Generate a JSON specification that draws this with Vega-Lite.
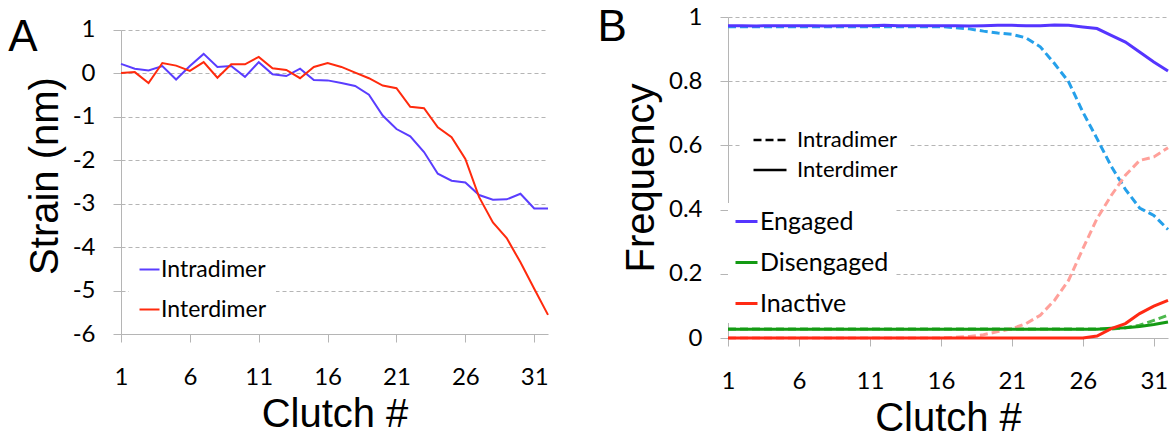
{
  "$schema": "https://vega.github.io/schema/vega-lite/v6.json",
  "padding": {"left": 8, "top": 5, "right": 0, "bottom": 0},
  "background": "white",
  "spacing": 45,
  "resolve": {"scale": {"color": "independent", "strokeDash": "independent"}, "legend": {"color": "independent", "strokeDash": "independent"}},
  "config": {
    "view": {"stroke": null},
    "title": {"font": "Liberation Sans", "fontSize": 44, "fontWeight": "normal", "anchor": "start", "frame": "bounds", "color": "#000"},
    "axis": {"labelFont": "Lato", "labelFontSize": 24, "labelColor": "#000", "titleFont": "Liberation Sans", "titleFontSize": 40, "titleFontWeight": "normal", "titleColor": "#000", "domainColor": "#b5b5b5", "tickColor": "#b5b5b5", "tickSize": 8, "gridColor": "#b5b5b5", "gridDash": [4, 3], "labelFlush": false, "labelOverlap": false},
    "axisX": {"grid": false},
    "axisY": {"grid": true, "labelPadding": 18, "titlePadding": 7},
    "legend": {"labelFont": "Lato", "labelColor": "#000", "title": null, "orient": "none", "fillColor": "white", "symbolType": "stroke", "labelLimit": 400}
  },
  "datasets": {
    "strain": [
      {"clutch":1,"series":"Intradimer","strain":0.22},{"clutch":2,"series":"Intradimer","strain":0.11},{"clutch":3,"series":"Intradimer","strain":0.07},{"clutch":4,"series":"Intradimer","strain":0.17},{"clutch":5,"series":"Intradimer","strain":-0.14},{"clutch":6,"series":"Intradimer","strain":0.17},{"clutch":7,"series":"Intradimer","strain":0.45},{"clutch":8,"series":"Intradimer","strain":0.15},{"clutch":9,"series":"Intradimer","strain":0.17},{"clutch":10,"series":"Intradimer","strain":-0.08},{"clutch":11,"series":"Intradimer","strain":0.26},{"clutch":12,"series":"Intradimer","strain":-0.02},{"clutch":13,"series":"Intradimer","strain":-0.06},{"clutch":14,"series":"Intradimer","strain":0.11},{"clutch":15,"series":"Intradimer","strain":-0.15},{"clutch":16,"series":"Intradimer","strain":-0.16},{"clutch":17,"series":"Intradimer","strain":-0.22},{"clutch":18,"series":"Intradimer","strain":-0.29},{"clutch":19,"series":"Intradimer","strain":-0.49},{"clutch":20,"series":"Intradimer","strain":-0.97},{"clutch":21,"series":"Intradimer","strain":-1.28},{"clutch":22,"series":"Intradimer","strain":-1.45},{"clutch":23,"series":"Intradimer","strain":-1.81},{"clutch":24,"series":"Intradimer","strain":-2.31},{"clutch":25,"series":"Intradimer","strain":-2.47},{"clutch":26,"series":"Intradimer","strain":-2.51},{"clutch":27,"series":"Intradimer","strain":-2.8},{"clutch":28,"series":"Intradimer","strain":-2.91},{"clutch":29,"series":"Intradimer","strain":-2.9},{"clutch":30,"series":"Intradimer","strain":-2.77},{"clutch":31,"series":"Intradimer","strain":-3.11},{"clutch":32,"series":"Intradimer","strain":-3.11},
      {"clutch":1,"series":"Interdimer","strain":0.01},{"clutch":2,"series":"Interdimer","strain":0.03},{"clutch":3,"series":"Interdimer","strain":-0.22},{"clutch":4,"series":"Interdimer","strain":0.24},{"clutch":5,"series":"Interdimer","strain":0.18},{"clutch":6,"series":"Interdimer","strain":0.06},{"clutch":7,"series":"Interdimer","strain":0.26},{"clutch":8,"series":"Interdimer","strain":-0.1},{"clutch":9,"series":"Interdimer","strain":0.21},{"clutch":10,"series":"Interdimer","strain":0.21},{"clutch":11,"series":"Interdimer","strain":0.38},{"clutch":12,"series":"Interdimer","strain":0.12},{"clutch":13,"series":"Interdimer","strain":0.08},{"clutch":14,"series":"Interdimer","strain":-0.11},{"clutch":15,"series":"Interdimer","strain":0.15},{"clutch":16,"series":"Interdimer","strain":0.24},{"clutch":17,"series":"Interdimer","strain":0.15},{"clutch":18,"series":"Interdimer","strain":0.02},{"clutch":19,"series":"Interdimer","strain":-0.11},{"clutch":20,"series":"Interdimer","strain":-0.28},{"clutch":21,"series":"Interdimer","strain":-0.34},{"clutch":22,"series":"Interdimer","strain":-0.77},{"clutch":23,"series":"Interdimer","strain":-0.8},{"clutch":24,"series":"Interdimer","strain":-1.24},{"clutch":25,"series":"Interdimer","strain":-1.47},{"clutch":26,"series":"Interdimer","strain":-1.97},{"clutch":27,"series":"Interdimer","strain":-2.85},{"clutch":28,"series":"Interdimer","strain":-3.43},{"clutch":29,"series":"Interdimer","strain":-3.79},{"clutch":30,"series":"Interdimer","strain":-4.35},{"clutch":31,"series":"Interdimer","strain":-4.96},{"clutch":32,"series":"Interdimer","strain":-5.56}
    ],
    "freq": [
      {"clutch":1,"state":"Engaged","type":"Intradimer","freq":0.97},{"clutch":2,"state":"Engaged","type":"Intradimer","freq":0.97},{"clutch":3,"state":"Engaged","type":"Intradimer","freq":0.97},{"clutch":4,"state":"Engaged","type":"Intradimer","freq":0.97},{"clutch":5,"state":"Engaged","type":"Intradimer","freq":0.97},{"clutch":6,"state":"Engaged","type":"Intradimer","freq":0.97},{"clutch":7,"state":"Engaged","type":"Intradimer","freq":0.97},{"clutch":8,"state":"Engaged","type":"Intradimer","freq":0.97},{"clutch":9,"state":"Engaged","type":"Intradimer","freq":0.97},{"clutch":10,"state":"Engaged","type":"Intradimer","freq":0.97},{"clutch":11,"state":"Engaged","type":"Intradimer","freq":0.97},{"clutch":12,"state":"Engaged","type":"Intradimer","freq":0.97},{"clutch":13,"state":"Engaged","type":"Intradimer","freq":0.97},{"clutch":14,"state":"Engaged","type":"Intradimer","freq":0.97},{"clutch":15,"state":"Engaged","type":"Intradimer","freq":0.97},{"clutch":16,"state":"Engaged","type":"Intradimer","freq":0.97},{"clutch":17,"state":"Engaged","type":"Intradimer","freq":0.967},{"clutch":18,"state":"Engaged","type":"Intradimer","freq":0.963},{"clutch":19,"state":"Engaged","type":"Intradimer","freq":0.956},{"clutch":20,"state":"Engaged","type":"Intradimer","freq":0.95},{"clutch":21,"state":"Engaged","type":"Intradimer","freq":0.946},{"clutch":22,"state":"Engaged","type":"Intradimer","freq":0.935},{"clutch":23,"state":"Engaged","type":"Intradimer","freq":0.907},{"clutch":24,"state":"Engaged","type":"Intradimer","freq":0.855},{"clutch":25,"state":"Engaged","type":"Intradimer","freq":0.798},{"clutch":26,"state":"Engaged","type":"Intradimer","freq":0.704},{"clutch":27,"state":"Engaged","type":"Intradimer","freq":0.621},{"clutch":28,"state":"Engaged","type":"Intradimer","freq":0.535},{"clutch":29,"state":"Engaged","type":"Intradimer","freq":0.463},{"clutch":30,"state":"Engaged","type":"Intradimer","freq":0.405},{"clutch":31,"state":"Engaged","type":"Intradimer","freq":0.382},{"clutch":32,"state":"Engaged","type":"Intradimer","freq":0.338},
      {"clutch":1,"state":"Disengaged","type":"Intradimer","freq":0.028},{"clutch":2,"state":"Disengaged","type":"Intradimer","freq":0.028},{"clutch":3,"state":"Disengaged","type":"Intradimer","freq":0.028},{"clutch":4,"state":"Disengaged","type":"Intradimer","freq":0.028},{"clutch":5,"state":"Disengaged","type":"Intradimer","freq":0.028},{"clutch":6,"state":"Disengaged","type":"Intradimer","freq":0.028},{"clutch":7,"state":"Disengaged","type":"Intradimer","freq":0.028},{"clutch":8,"state":"Disengaged","type":"Intradimer","freq":0.028},{"clutch":9,"state":"Disengaged","type":"Intradimer","freq":0.028},{"clutch":10,"state":"Disengaged","type":"Intradimer","freq":0.028},{"clutch":11,"state":"Disengaged","type":"Intradimer","freq":0.028},{"clutch":12,"state":"Disengaged","type":"Intradimer","freq":0.028},{"clutch":13,"state":"Disengaged","type":"Intradimer","freq":0.028},{"clutch":14,"state":"Disengaged","type":"Intradimer","freq":0.028},{"clutch":15,"state":"Disengaged","type":"Intradimer","freq":0.028},{"clutch":16,"state":"Disengaged","type":"Intradimer","freq":0.028},{"clutch":17,"state":"Disengaged","type":"Intradimer","freq":0.028},{"clutch":18,"state":"Disengaged","type":"Intradimer","freq":0.028},{"clutch":19,"state":"Disengaged","type":"Intradimer","freq":0.028},{"clutch":20,"state":"Disengaged","type":"Intradimer","freq":0.028},{"clutch":21,"state":"Disengaged","type":"Intradimer","freq":0.028},{"clutch":22,"state":"Disengaged","type":"Intradimer","freq":0.028},{"clutch":23,"state":"Disengaged","type":"Intradimer","freq":0.028},{"clutch":24,"state":"Disengaged","type":"Intradimer","freq":0.028},{"clutch":25,"state":"Disengaged","type":"Intradimer","freq":0.028},{"clutch":26,"state":"Disengaged","type":"Intradimer","freq":0.028},{"clutch":27,"state":"Disengaged","type":"Intradimer","freq":0.028},{"clutch":28,"state":"Disengaged","type":"Intradimer","freq":0.028},{"clutch":29,"state":"Disengaged","type":"Intradimer","freq":0.032},{"clutch":30,"state":"Disengaged","type":"Intradimer","freq":0.04},{"clutch":31,"state":"Disengaged","type":"Intradimer","freq":0.055},{"clutch":32,"state":"Disengaged","type":"Intradimer","freq":0.071},
      {"clutch":1,"state":"Inactive","type":"Intradimer","freq":0},{"clutch":2,"state":"Inactive","type":"Intradimer","freq":0},{"clutch":3,"state":"Inactive","type":"Intradimer","freq":0},{"clutch":4,"state":"Inactive","type":"Intradimer","freq":0},{"clutch":5,"state":"Inactive","type":"Intradimer","freq":0},{"clutch":6,"state":"Inactive","type":"Intradimer","freq":0},{"clutch":7,"state":"Inactive","type":"Intradimer","freq":0},{"clutch":8,"state":"Inactive","type":"Intradimer","freq":0},{"clutch":9,"state":"Inactive","type":"Intradimer","freq":0},{"clutch":10,"state":"Inactive","type":"Intradimer","freq":0},{"clutch":11,"state":"Inactive","type":"Intradimer","freq":0},{"clutch":12,"state":"Inactive","type":"Intradimer","freq":0},{"clutch":13,"state":"Inactive","type":"Intradimer","freq":0},{"clutch":14,"state":"Inactive","type":"Intradimer","freq":0},{"clutch":15,"state":"Inactive","type":"Intradimer","freq":0},{"clutch":16,"state":"Inactive","type":"Intradimer","freq":0},{"clutch":17,"state":"Inactive","type":"Intradimer","freq":0.002},{"clutch":18,"state":"Inactive","type":"Intradimer","freq":0.005},{"clutch":19,"state":"Inactive","type":"Intradimer","freq":0.01},{"clutch":20,"state":"Inactive","type":"Intradimer","freq":0.02},{"clutch":21,"state":"Inactive","type":"Intradimer","freq":0.029},{"clutch":22,"state":"Inactive","type":"Intradimer","freq":0.045},{"clutch":23,"state":"Inactive","type":"Intradimer","freq":0.071},{"clutch":24,"state":"Inactive","type":"Intradimer","freq":0.117},{"clutch":25,"state":"Inactive","type":"Intradimer","freq":0.18},{"clutch":26,"state":"Inactive","type":"Intradimer","freq":0.278},{"clutch":27,"state":"Inactive","type":"Intradimer","freq":0.372},{"clutch":28,"state":"Inactive","type":"Intradimer","freq":0.444},{"clutch":29,"state":"Inactive","type":"Intradimer","freq":0.507},{"clutch":30,"state":"Inactive","type":"Intradimer","freq":0.553},{"clutch":31,"state":"Inactive","type":"Intradimer","freq":0.564},{"clutch":32,"state":"Inactive","type":"Intradimer","freq":0.593},
      {"clutch":1,"state":"Engaged","type":"Interdimer","freq":0.973},{"clutch":2,"state":"Engaged","type":"Interdimer","freq":0.973},{"clutch":3,"state":"Engaged","type":"Interdimer","freq":0.972},{"clutch":4,"state":"Engaged","type":"Interdimer","freq":0.973},{"clutch":5,"state":"Engaged","type":"Interdimer","freq":0.973},{"clutch":6,"state":"Engaged","type":"Interdimer","freq":0.973},{"clutch":7,"state":"Engaged","type":"Interdimer","freq":0.973},{"clutch":8,"state":"Engaged","type":"Interdimer","freq":0.972},{"clutch":9,"state":"Engaged","type":"Interdimer","freq":0.973},{"clutch":10,"state":"Engaged","type":"Interdimer","freq":0.973},{"clutch":11,"state":"Engaged","type":"Interdimer","freq":0.973},{"clutch":12,"state":"Engaged","type":"Interdimer","freq":0.974},{"clutch":13,"state":"Engaged","type":"Interdimer","freq":0.973},{"clutch":14,"state":"Engaged","type":"Interdimer","freq":0.973},{"clutch":15,"state":"Engaged","type":"Interdimer","freq":0.973},{"clutch":16,"state":"Engaged","type":"Interdimer","freq":0.973},{"clutch":17,"state":"Engaged","type":"Interdimer","freq":0.973},{"clutch":18,"state":"Engaged","type":"Interdimer","freq":0.972},{"clutch":19,"state":"Engaged","type":"Interdimer","freq":0.973},{"clutch":20,"state":"Engaged","type":"Interdimer","freq":0.974},{"clutch":21,"state":"Engaged","type":"Interdimer","freq":0.974},{"clutch":22,"state":"Engaged","type":"Interdimer","freq":0.973},{"clutch":23,"state":"Engaged","type":"Interdimer","freq":0.973},{"clutch":24,"state":"Engaged","type":"Interdimer","freq":0.975},{"clutch":25,"state":"Engaged","type":"Interdimer","freq":0.974},{"clutch":26,"state":"Engaged","type":"Interdimer","freq":0.969},{"clutch":27,"state":"Engaged","type":"Interdimer","freq":0.964},{"clutch":28,"state":"Engaged","type":"Interdimer","freq":0.943},{"clutch":29,"state":"Engaged","type":"Interdimer","freq":0.922},{"clutch":30,"state":"Engaged","type":"Interdimer","freq":0.891},{"clutch":31,"state":"Engaged","type":"Interdimer","freq":0.86},{"clutch":32,"state":"Engaged","type":"Interdimer","freq":0.832},
      {"clutch":1,"state":"Disengaged","type":"Interdimer","freq":0.027},{"clutch":2,"state":"Disengaged","type":"Interdimer","freq":0.027},{"clutch":3,"state":"Disengaged","type":"Interdimer","freq":0.027},{"clutch":4,"state":"Disengaged","type":"Interdimer","freq":0.027},{"clutch":5,"state":"Disengaged","type":"Interdimer","freq":0.027},{"clutch":6,"state":"Disengaged","type":"Interdimer","freq":0.027},{"clutch":7,"state":"Disengaged","type":"Interdimer","freq":0.027},{"clutch":8,"state":"Disengaged","type":"Interdimer","freq":0.027},{"clutch":9,"state":"Disengaged","type":"Interdimer","freq":0.027},{"clutch":10,"state":"Disengaged","type":"Interdimer","freq":0.027},{"clutch":11,"state":"Disengaged","type":"Interdimer","freq":0.027},{"clutch":12,"state":"Disengaged","type":"Interdimer","freq":0.027},{"clutch":13,"state":"Disengaged","type":"Interdimer","freq":0.027},{"clutch":14,"state":"Disengaged","type":"Interdimer","freq":0.027},{"clutch":15,"state":"Disengaged","type":"Interdimer","freq":0.027},{"clutch":16,"state":"Disengaged","type":"Interdimer","freq":0.027},{"clutch":17,"state":"Disengaged","type":"Interdimer","freq":0.027},{"clutch":18,"state":"Disengaged","type":"Interdimer","freq":0.027},{"clutch":19,"state":"Disengaged","type":"Interdimer","freq":0.027},{"clutch":20,"state":"Disengaged","type":"Interdimer","freq":0.027},{"clutch":21,"state":"Disengaged","type":"Interdimer","freq":0.027},{"clutch":22,"state":"Disengaged","type":"Interdimer","freq":0.027},{"clutch":23,"state":"Disengaged","type":"Interdimer","freq":0.027},{"clutch":24,"state":"Disengaged","type":"Interdimer","freq":0.027},{"clutch":25,"state":"Disengaged","type":"Interdimer","freq":0.027},{"clutch":26,"state":"Disengaged","type":"Interdimer","freq":0.027},{"clutch":27,"state":"Disengaged","type":"Interdimer","freq":0.027},{"clutch":28,"state":"Disengaged","type":"Interdimer","freq":0.03},{"clutch":29,"state":"Disengaged","type":"Interdimer","freq":0.032},{"clutch":30,"state":"Disengaged","type":"Interdimer","freq":0.036},{"clutch":31,"state":"Disengaged","type":"Interdimer","freq":0.042},{"clutch":32,"state":"Disengaged","type":"Interdimer","freq":0.05},
      {"clutch":1,"state":"Inactive","type":"Interdimer","freq":0},{"clutch":2,"state":"Inactive","type":"Interdimer","freq":0},{"clutch":3,"state":"Inactive","type":"Interdimer","freq":0},{"clutch":4,"state":"Inactive","type":"Interdimer","freq":0},{"clutch":5,"state":"Inactive","type":"Interdimer","freq":0},{"clutch":6,"state":"Inactive","type":"Interdimer","freq":0},{"clutch":7,"state":"Inactive","type":"Interdimer","freq":0},{"clutch":8,"state":"Inactive","type":"Interdimer","freq":0},{"clutch":9,"state":"Inactive","type":"Interdimer","freq":0},{"clutch":10,"state":"Inactive","type":"Interdimer","freq":0},{"clutch":11,"state":"Inactive","type":"Interdimer","freq":0},{"clutch":12,"state":"Inactive","type":"Interdimer","freq":0},{"clutch":13,"state":"Inactive","type":"Interdimer","freq":0},{"clutch":14,"state":"Inactive","type":"Interdimer","freq":0},{"clutch":15,"state":"Inactive","type":"Interdimer","freq":0},{"clutch":16,"state":"Inactive","type":"Interdimer","freq":0},{"clutch":17,"state":"Inactive","type":"Interdimer","freq":0},{"clutch":18,"state":"Inactive","type":"Interdimer","freq":0},{"clutch":19,"state":"Inactive","type":"Interdimer","freq":0},{"clutch":20,"state":"Inactive","type":"Interdimer","freq":0},{"clutch":21,"state":"Inactive","type":"Interdimer","freq":0},{"clutch":22,"state":"Inactive","type":"Interdimer","freq":0},{"clutch":23,"state":"Inactive","type":"Interdimer","freq":0},{"clutch":24,"state":"Inactive","type":"Interdimer","freq":0},{"clutch":25,"state":"Inactive","type":"Interdimer","freq":0},{"clutch":26,"state":"Inactive","type":"Interdimer","freq":0},{"clutch":27,"state":"Inactive","type":"Interdimer","freq":0.006},{"clutch":28,"state":"Inactive","type":"Interdimer","freq":0.029},{"clutch":29,"state":"Inactive","type":"Interdimer","freq":0.045},{"clutch":30,"state":"Inactive","type":"Interdimer","freq":0.076},{"clutch":31,"state":"Inactive","type":"Interdimer","freq":0.099},{"clutch":32,"state":"Inactive","type":"Interdimer","freq":0.117}
    ]
  },
  "hconcat": [
    {
      "width": 427,
      "height": 317,
      "title": {"text": "A", "offset": -43, "dx": -17},
      "data": {"name": "strain"},
      "mark": {"type": "line", "strokeWidth": 2},
      "encoding": {
        "x": {"field": "clutch", "type": "quantitative", "scale": {"domain": [1, 32], "nice": false, "zero": false}, "axis": {"values": [1, 6, 11, 16, 21, 26, 31], "title": "Clutch #", "labelPadding": 23, "titlePadding": 5}},
        "y": {"field": "strain", "type": "quantitative", "scale": {"domain": [-6, 1.2993], "nice": false, "zero": false}, "axis": {"values": [-6, -5, -4, -3, -2, -1, 0, 1], "title": "Strain (nm)", "labelExpr": "toString(datum.value)", "domainDash": [304, 200]}},
        "color": {"field": "series", "type": "nominal", "scale": {"domain": ["Intradimer", "Interdimer"], "range": ["#5a3dff", "#ff2a0d"]}, "legend": {"legendX": 8, "legendY": 232, "padding": 9, "labelFontSize": 23, "symbolSize": 400, "symbolStrokeWidth": 2, "labelOffset": 0, "rowPadding": 16}},
        "order": {"field": "clutch", "type": "quantitative"}
      }
    },
    {
      "width": 440,
      "height": 321,
      "title": {"text": "B", "offset": -45, "dx": -24},
      "data": {"name": "freq"},
      "encoding": {
        "x": {"field": "clutch", "type": "quantitative", "scale": {"domain": [1, 32], "nice": false, "zero": false}, "axis": {"values": [1, 6, 11, 16, 21, 26, 31], "title": "Clutch #", "labelPadding": 23, "titlePadding": 5}},
        "y": {"field": "freq", "type": "quantitative", "scale": {"domain": [0, 1], "nice": false}, "axis": {"values": [0, 0.2, 0.4, 0.6, 0.8, 1], "title": "Frequency", "labelExpr": "toString(datum.value)"}},
        "order": {"field": "clutch", "type": "quantitative"}
      },
      "layer": [
        {
          "transform": [{"filter": "datum.type === 'Intradimer'"}],
          "mark": {"type": "line", "strokeWidth": 3},
          "encoding": {
            "color": {"field": "state", "type": "nominal", "scale": {"domain": ["Engaged", "Disengaged", "Inactive"], "range": ["#25a0ea", "#4db84d", "#ffa09a"]}, "legend": null},
            "strokeDash": {"field": "type", "type": "nominal", "scale": {"domain": ["Intradimer", "Interdimer"], "range": [[8, 4], [1, 0]]}, "legend": {"legendX": 14, "legendY": 95, "padding": 10, "labelFontSize": 22, "symbolSize": 1089, "symbolStrokeWidth": 2.5, "symbolStrokeColor": "#000", "labelOffset": 9, "rowPadding": 1}}
          }
        },
        {
          "transform": [{"filter": "datum.type === 'Interdimer'"}],
          "mark": {"type": "line", "strokeWidth": 3},
          "encoding": {
            "color": {"field": "state", "type": "nominal", "scale": {"domain": ["Engaged", "Disengaged", "Inactive"], "range": ["#5535ff", "#139a13", "#ff2a14"]}, "legend": {"legendX": 0, "legendY": 186, "padding": 6, "labelFontSize": 25, "symbolSize": 484, "symbolStrokeWidth": 3, "labelOffset": 1, "rowPadding": 15}}
          }
        }
      ],
      "resolve": {"scale": {"color": "independent"}, "legend": {"color": "independent"}}
    }
  ]
}
